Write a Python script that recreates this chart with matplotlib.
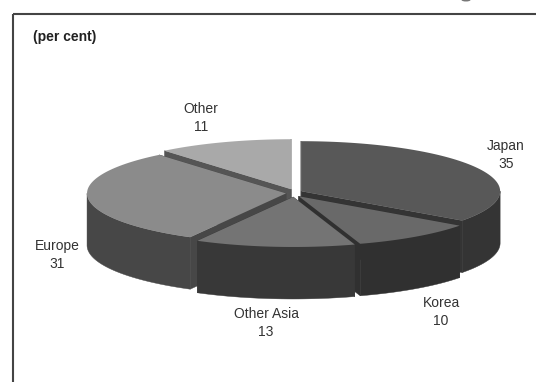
import numpy as np
import matplotlib
matplotlib.use("Agg")
import matplotlib.pyplot as plt
from matplotlib.patches import Ellipse, Polygon, Rectangle

labels = ['Japan', 'Korea', 'Other Asia', 'Europe', 'Other']
values = [35, 10, 13, 31, 11]
top_colors = ['#585858', '#696969', '#747474', '#8b8b8b', '#a9a9a9']
side_colors = ['#343434', '#303030', '#383838', '#474747', '#555555']
label_pos = [(506, 155), (441, 312), (266, 323), (57, 255), (201, 118)]

# pie geometry in pixels
cx, cy = 294, 193
rx, ry = 199, 50
depth = 52
gap = 8

plt.rcParams['font.family'] = ['Liberation Sans', 'DejaVu Sans']
fig = plt.figure(figsize=(5.36, 3.82), dpi=100)
ax = fig.add_axes([0, 0, 1, 1])
ax.set_xlim(0, 536)
ax.set_ylim(382, 0)
ax.axis('off')

# frame, runs off the right and bottom of the picture
ax.add_patch(Rectangle((13, 14), 600, 600, fill=False, ec='#444444', lw=1.5))
# smudge left by the cropped title above the frame
ax.add_patch(Ellipse((466, 0), 9, 3, fc='#777777', ec='none'))

ends = np.cumsum(values) / np.sum(values) * 2 * np.pi
starts = ends - np.array(values) / np.sum(values) * 2 * np.pi

slices = []
for i in range(len(values)):
    th = np.linspace(starts[i], ends[i], 80)
    mid = (starts[i] + ends[i]) / 2
    px = cx + gap * np.sin(mid)
    py = cy - gap * 0.5 * np.cos(mid)
    slices.append((i, th, px, py, py - ry * np.cos(mid)))

# back to front
for i, th, px, py, _ in sorted(slices, key=lambda s: s[4]):
    c = side_colors[i]
    xs = px + rx * np.sin(th)
    ys = py - ry * np.cos(th)
    # radial faces
    for x, y in [(xs[0], ys[0]), (xs[-1], ys[-1])]:
        ax.add_patch(Polygon([(px, py), (x, y), (x, y + depth), (px, py + depth)], fc=c, ec=c, lw=0.3))
    # outer wall, front half of the rim only
    front = np.clip(th, np.pi / 2, 3 * np.pi / 2)
    wx = px + rx * np.sin(front)
    wy = py - ry * np.cos(front)
    wall = np.r_[np.c_[wx, wy], np.c_[wx[::-1], wy[::-1] + depth]]
    ax.add_patch(Polygon(wall, fc=c, ec=c, lw=0.3))
    # top
    top = np.r_[[[px, py]], np.c_[xs, ys]]
    ax.add_patch(Polygon(top, fc=top_colors[i], ec='none'))

for name, val, (x, y) in zip(labels, values, label_pos):
    ax.text(x, y - 9, name, ha='center', va='center', fontsize=10, color='#333333')
    ax.text(x, y + 9, str(val), ha='center', va='center', fontsize=10, color='#333333')

ax.text(33, 37, '(per cent)', ha='left', va='center', fontsize=10, fontweight='bold', color='#222222')

fig.savefig('out.png', dpi=100)
